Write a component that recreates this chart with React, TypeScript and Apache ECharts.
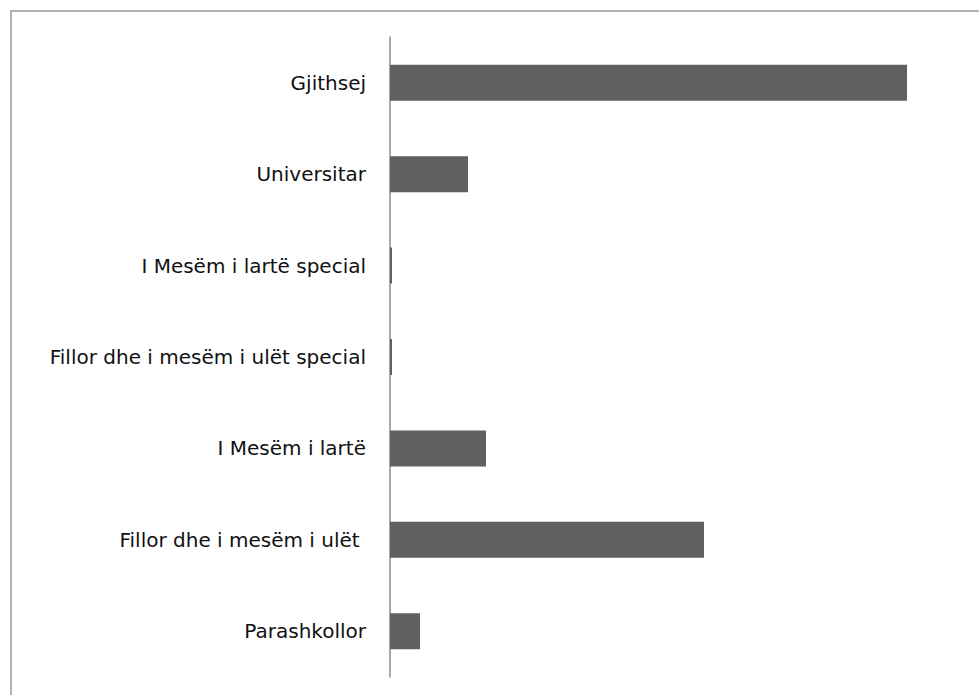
import React, { useEffect, useRef } from "react";
import * as echarts from "echarts";

const categories = [
  "Gjithsej",
  "Universitar",
  "I Mesëm i lartë special",
  "Fillor dhe i mesëm i ulët special",
  "I Mesëm i lartë",
  "Fillor dhe i mesëm i ulët ",
  "Parashkollor",
];
const values = [517, 78, 2, 2, 96, 314, 30];

export default function App() {
  const ref = useRef<HTMLDivElement>(null);
  useEffect(() => {
    if (!ref.current) return;
    const chart = echarts.init(ref.current, undefined, { renderer: "svg" });
    chart.setOption({
      animation: false,
      backgroundColor: "#ffffff",
      graphic: [
        {
          type: "rect",
          shape: { x: 11, y: 11, width: 1200, height: 1000 },
          style: { fill: "none", stroke: "#999999", lineWidth: 1.5 },
          silent: true,
        },
      ],
      grid: { left: 390, top: 37, width: 580, height: 640, containLabel: false },
      xAxis: {
        type: "value",
        min: 0,
        max: 580,
        show: false,
      },
      yAxis: {
        type: "category",
        inverse: true,
        data: categories,
        axisLine: { show: true, lineStyle: { color: "#8c8c8c", width: 1.5 } },
        axisTick: { show: false },
        splitLine: { show: false },
        axisLabel: {
          color: "#111111",
          fontFamily: "DejaVu Sans",
          fontSize: 20,
          margin: 24,
        },
      },
      series: [
        {
          type: "bar",
          data: values,
          barWidth: 36,
          itemStyle: { color: "#606060" },
        },
      ],
    });
    return () => chart.dispose();
  }, []);
  return (
    <div
      ref={ref}
      style={{ position: "absolute", left: 0, top: 0, width: 979, height: 695 }}
    />
  );
}
